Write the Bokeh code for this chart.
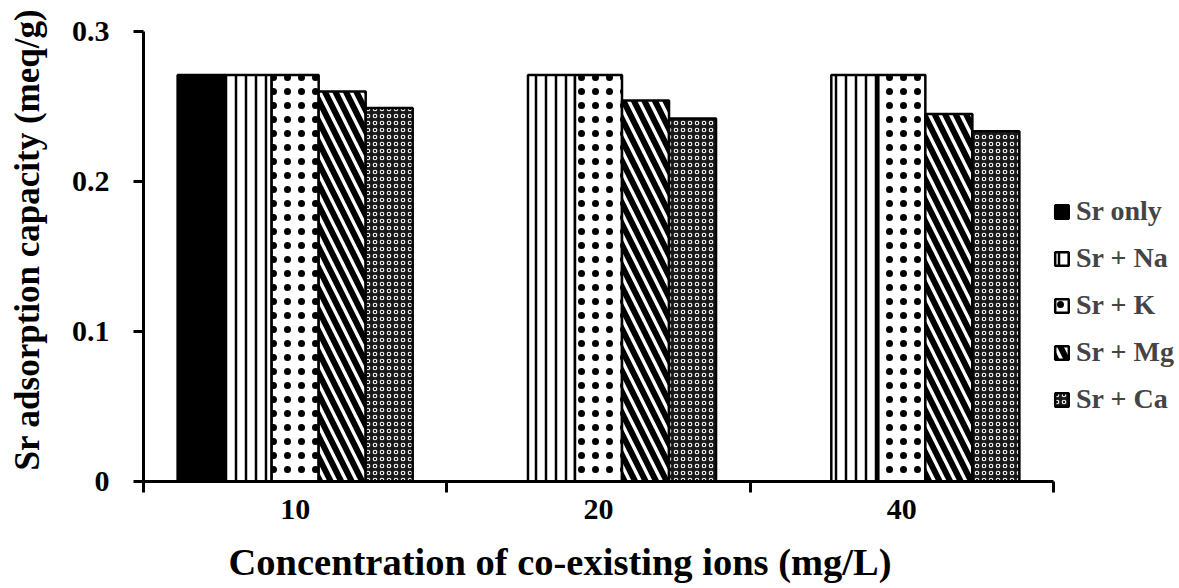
from bokeh.plotting import figure
from bokeh.models import ColumnDataSource, Range1d, FixedTicker, Legend, LegendItem, Title
from bokeh.transform import dodge
from bokeh.embed import file_html
from bokeh.resources import INLINE
import math

# ---- data ----
categories = ["10", "20", "40"]
series_names = ["Sr only", "Sr + Na", "Sr + K", "Sr + Mg", "Sr + Ca"]
sr_only = [0.271, math.nan, math.nan]
sr_na = [0.271, 0.271, 0.271]
sr_k = [0.271, 0.271, 0.271]
sr_mg = [0.260, 0.254, 0.245]
sr_ca = [0.249, 0.242, 0.2335]
y_ticks = [0, 0.1, 0.2, 0.3]
x_title = "Concentration  of co-existing ions (mg/L)"
y_title = "Sr adsorption capacity (meq/g)"

FONT = "Liberation Serif"

src = ColumnDataSource(dict(
    x=[i + 0.5 for i in range(len(categories))],
    sr_only=sr_only, sr_na=sr_na, sr_k=sr_k, sr_mg=sr_mg, sr_ca=sr_ca,
))

p = figure(frame_width=910, frame_height=450, output_backend="svg", toolbar_location=None,
           x_range=Range1d(0, len(categories)), y_range=Range1d(0, 0.3),
           min_border_left=143, min_border_right=0, min_border_top=31, min_border_bottom=60)
p.outline_line_color = None
p.grid.visible = False
p.background_fill_color = "white"

bar_w = 0.155
styles = [
    dict(fill_color="black", line_color="black"),
    dict(fill_color="white", hatch_pattern="vertical_line", hatch_scale=10, hatch_weight=2.5, hatch_color="black"),
    dict(fill_color="white", hatch_pattern="dot", hatch_scale=14, hatch_weight=0.8, hatch_color="black"),
    dict(fill_color="white", hatch_pattern="left_diagonal_line", hatch_scale=21, hatch_weight=6, hatch_color="black"),
    dict(fill_color="#1a1a1a", hatch_pattern="ring", hatch_scale=7, hatch_weight=1.1, hatch_color="white"),
]
cols = ["sr_only", "sr_na", "sr_k", "sr_mg", "sr_ca"]
items = []
for i, (c, name, st) in enumerate(zip(cols, series_names, styles)):
    st = dict(st)
    st.setdefault("line_color", "black")
    r = p.vbar(x=dodge("x", (i - 2) * bar_w, range=p.x_range), top=c, width=bar_w,
               source=src, line_width=2.5, **st)
    items.append(LegendItem(label=name, renderers=[r]))

legend = Legend(items=items, location=(0, 66), padding=0, margin=0,
                border_line_color=None, background_fill_alpha=0,
                label_text_font=FONT, label_text_font_style="bold",
                label_text_font_size="28px", glyph_width=17, glyph_height=17,
                label_height=30, spacing=15, label_standoff=6)
p.add_layout(legend, "right")

# x axis
xa = p.xaxis[0]
xa.ticker = FixedTicker(ticks=[i + 0.5 for i in range(len(categories))],
                        minor_ticks=list(range(len(categories) + 1)))
xa.major_label_overrides = {i + 0.5: c for i, c in enumerate(categories)}
xa.major_tick_out = 0
xa.major_tick_in = 0
xa.minor_tick_out = 11
xa.minor_tick_in = 0
xa.minor_tick_line_width = 3
xa.minor_tick_line_color = "black"
xa.axis_line_width = 3
xa.axis_line_color = "black"
xa.major_label_text_font = FONT
xa.major_label_text_font_style = "bold"
xa.major_label_text_font_size = "30px"
xa.major_label_text_color = "black"
xa.major_label_standoff = 7

# y axis
ya = p.yaxis[0]
ya.ticker = FixedTicker(ticks=y_ticks, minor_ticks=[])
ya.major_label_overrides = {0: "0"}
ya.major_tick_out = 10
ya.major_tick_in = 0
ya.major_tick_line_width = 3
ya.axis_line_width = 3
ya.axis_line_color = "black"
ya.major_label_text_font = FONT
ya.major_label_text_font_style = "bold"
ya.major_label_text_font_size = "30px"
ya.major_label_text_color = "black"
ya.major_label_standoff = 24

# small spacer between the tick labels and the y title
spacer = Title(text=" ", text_font_size="1px", standoff=17)
p.add_layout(spacer, "left")

ty = Title(text=y_title, align="left", offset=11, text_font=FONT,
           text_font_style="bold", text_font_size="35px", text_color="black", standoff=4)
p.add_layout(ty, "left")

t = Title(text=x_title, align="left", offset=85, text_font=FONT,
          text_font_style="bold", text_font_size="38.5px", text_color="black", standoff=35)
p.add_layout(t, "below")

open("out.html", "w").write(file_html(p, INLINE))
